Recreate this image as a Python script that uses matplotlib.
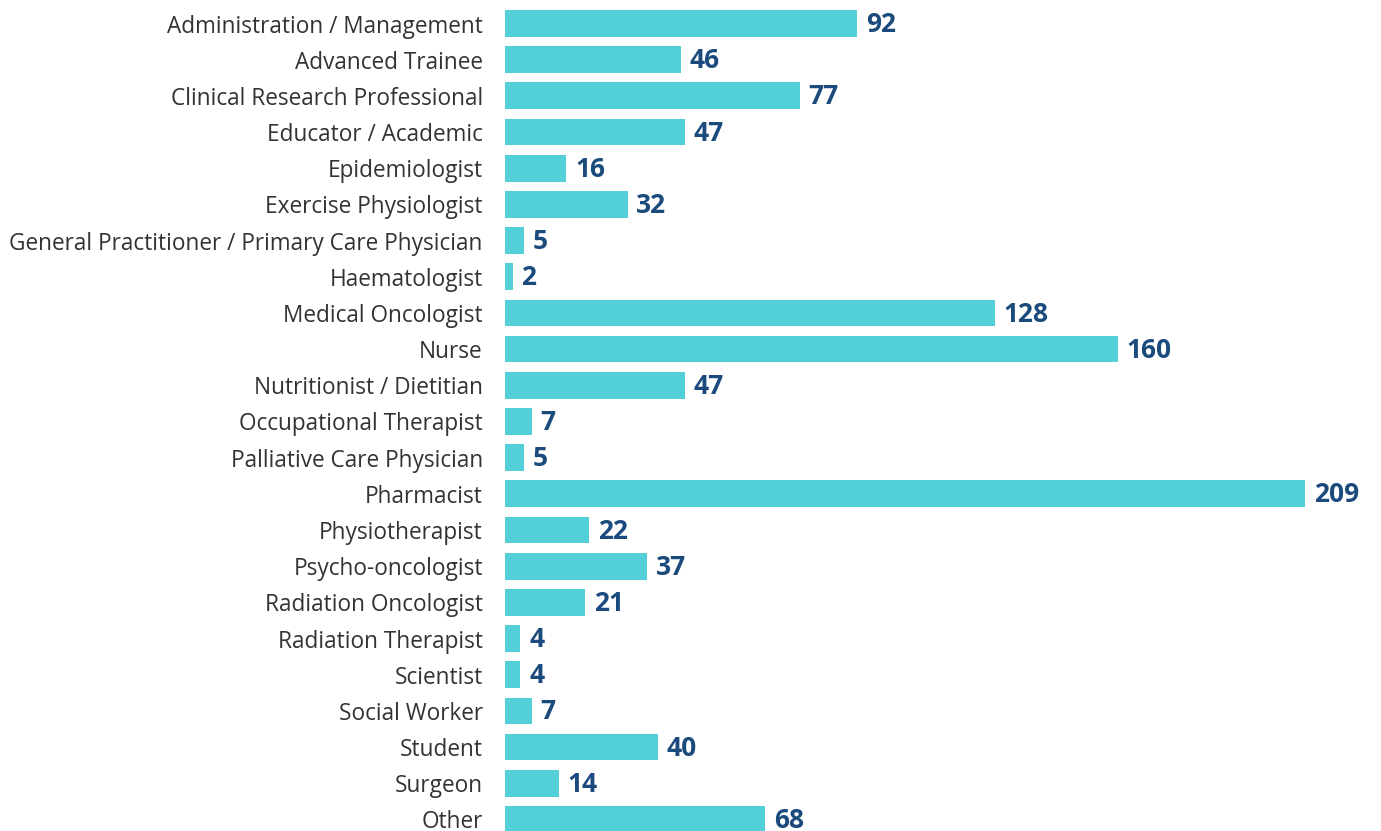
import matplotlib
matplotlib.use('Agg')
import matplotlib.pyplot as plt

categories = [
    'Administration / Management', 'Advanced Trainee', 'Clinical Research Professional',
    'Educator / Academic', 'Epidemiologist', 'Exercise Physiologist',
    'General Practitioner / Primary Care Physician', 'Haematologist', 'Medical Oncologist',
    'Nurse', 'Nutritionist / Dietitian', 'Occupational Therapist', 'Palliative Care Physician',
    'Pharmacist', 'Physiotherapist', 'Psycho-oncologist', 'Radiation Oncologist',
    'Radiation Therapist', 'Scientist', 'Social Worker', 'Student', 'Surgeon', 'Other',
]
counts = [92, 46, 77, 47, 16, 32, 5, 2, 128, 160, 47, 7, 5, 209, 22, 37, 21, 4, 4, 7, 40, 14, 68]

BAR_COLOR = '#53d0d7'
VALUE_COLOR = '#1b4a7c'
LABEL_COLOR = '#333333'

plt.rcParams['font.family'] = ['Open Sans', 'DejaVu Sans']

fig = plt.figure(figsize=(13.81, 8.31), dpi=100)
ax = fig.add_axes([505 / 1381, 0, 876 / 1381, 1])

pos = list(range(len(categories)))
ax.barh(pos, counts, height=0.74, color=BAR_COLOR)

# Werte rechts neben den Balken
for p, v in zip(pos, counts):
    ax.text(v + 2.3, p + 0.03, str(v), va='center', ha='left', fontsize=19,
            fontweight='bold', color=VALUE_COLOR)

ax.set_yticks(pos)
ax.set_yticklabels(categories, fontsize=16.3, color=LABEL_COLOR)
ax.tick_params(axis='y', length=0, pad=16)
ax.set_xticks([])
ax.set_xlim(0, 228.8)
ax.set_ylim(22.32, -0.65)
for s in ax.spines.values():
    s.set_visible(False)

fig.savefig('out.png', dpi=100)
plt.close()
